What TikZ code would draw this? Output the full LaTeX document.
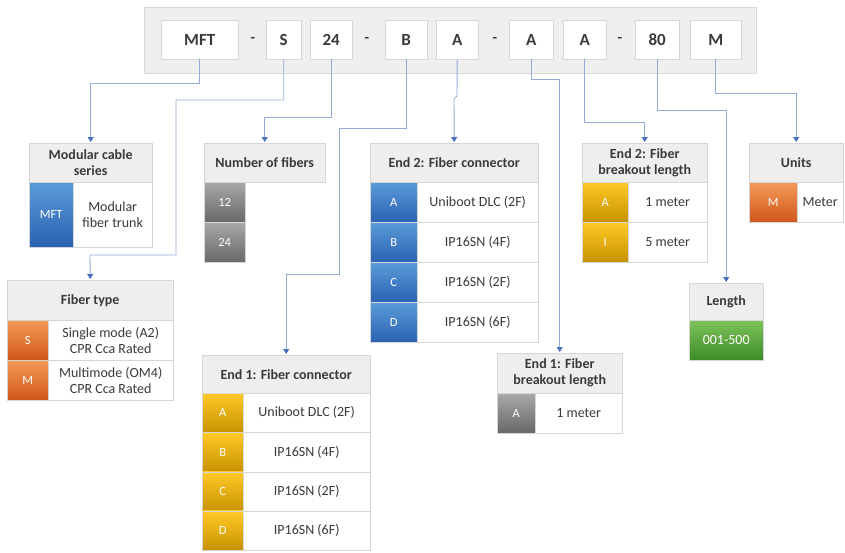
\documentclass[tikz,border=0pt]{standalone}
\usepackage{fontspec}
\setmainfont{Carlito}
\usetikzlibrary{arrows.meta}

\definecolor{barfill}{HTML}{EFEFEF}
\definecolor{barline}{HTML}{D9D9D9}
\definecolor{hdrfill}{HTML}{EEEEEE}
\definecolor{cellline}{HTML}{D6D6D6}
\definecolor{linkblue}{HTML}{93ABD8}
\definecolor{tipblue}{HTML}{4A6FBF}
\definecolor{txtgrey}{HTML}{3A3A3A}
\definecolor{bluetop}{HTML}{5B9BD8}
\definecolor{bluebot}{HTML}{2A62B2}
\definecolor{greytop}{HTML}{A8A8A8}
\definecolor{greybot}{HTML}{686868}
\definecolor{orangetop}{HTML}{F39A58}
\definecolor{orangebot}{HTML}{D0561A}
\definecolor{yellowtop}{HTML}{FFC928}
\definecolor{yellowbot}{HTML}{C89200}
\definecolor{greentop}{HTML}{7DC25A}
\definecolor{greenbot}{HTML}{3C8C28}

\tikzset{
  top/.style={draw=cellline, fill=white, minimum height=39pt, inner sep=0pt, anchor=north west,
    font=\fontsize{17}{19}\selectfont\bfseries, text=txtgrey},
  sep/.style={font=\fontsize{15}{17}\selectfont\bfseries, text=txtgrey},
  hdr/.style={draw=cellline, fill=hdrfill, inner sep=0pt, anchor=north west, align=center,
    font=\fontsize{14}{16}\selectfont\bfseries, text=txtgrey},
  cell/.style={draw=cellline, fill=white, inner sep=0pt, anchor=north west, align=center,
    font=\fontsize{14}{16}\selectfont, text=txtgrey},
  key/.style={draw=cellline, inner sep=0pt, anchor=north west, text=white,
    font=\fontsize{12.5}{14}\selectfont},
  bluekey/.style={key, top color=bluetop, bottom color=bluebot},
  greykey/.style={key, top color=greytop, bottom color=greybot},
  orangekey/.style={key, top color=orangetop, bottom color=orangebot},
  yellowkey/.style={key, top color=yellowtop, bottom color=yellowbot},
  greenkey/.style={key, top color=greentop, bottom color=greenbot},
  conn/.style={draw=linkblue, line width=0.9pt, -{Triangle[width=6pt,length=5pt,color=tipblue]}, shorten >=1pt}
}

\begin{document}
\begin{tikzpicture}[x=1pt,y=-1pt]
\useasboundingbox (0,0) rectangle (845,552);

% code bar
\node[draw=barline, fill=barfill, minimum width=612pt, minimum height=66pt, anchor=north west] (bar) at (144,7) {};
\node[top, minimum width=77pt] (mft) at (161,20) {MFT};
\node[sep] (d1) at (253,40) {-};
\node[top, minimum width=35pt] (s) at (266,20) {S};
\node[top, minimum width=42pt] (n24) at (310,20) {24};
\node[sep] (d2) at (367,40) {-};
\node[top, minimum width=42pt] (b) at (385,20) {B};
\node[top, minimum width=42pt] (a1) at (436,20) {A};
\node[sep] (d3) at (495,40) {-};
\node[top, minimum width=44pt] (a2) at (509,20) {A};
\node[top, minimum width=43pt] (a3) at (563,20) {A};
\node[sep] (d4) at (620,40) {-};
\node[top, minimum width=44pt] (n80) at (635,20) {80};
\node[top, minimum width=51pt] (m) at (690,20) {M};

% modular cable series
\node[hdr, minimum width=123pt, minimum height=39pt] (ser) at (29,143) {Modular cable\\series};
\node[bluekey, minimum width=44pt, minimum height=65pt] (serkey) at (29,182) {MFT};
\node[cell, minimum width=79pt, minimum height=65pt] (sertxt) at (73,182) {Modular\\fiber trunk};

% number of fibers
\node[hdr, minimum width=121pt, minimum height=39pt] (nfib) at (204,143) {Number of fibers};
\node[greykey, minimum width=41pt, minimum height=40pt] (nfib12) at (204,182) {12};
\node[greykey, minimum width=41pt, minimum height=40pt] (nfib24) at (204,222) {24};

% end 2 connector
\node[hdr, minimum width=168pt, minimum height=39pt] (ec2) at (370,143) {End 2: Fiber connector};
\foreach \k/\t [count=\i from 0] in {A/Uniboot DLC (2F), B/IP16SN (4F), C/IP16SN (2F), D/IP16SN (6F)}{
  \node[bluekey, minimum width=47pt, minimum height=40pt] (ec2key\i) at (370,{182+40*\i}) {\k};
  \node[cell, minimum width=121pt, minimum height=40pt] (ec2txt\i) at (417,{182+40*\i}) {\t};
}

% end 2 breakout length
\node[hdr, minimum width=125pt, minimum height=39pt] (eb2) at (582,143) {End 2: Fiber\\breakout length};
\node[yellowkey, minimum width=46pt, minimum height=40pt] (eb2keyA) at (582,182) {A};
\node[cell, minimum width=79pt, minimum height=40pt] (eb2txtA) at (628,182) {1 meter};
\node[yellowkey, minimum width=46pt, minimum height=40pt] (eb2keyI) at (582,222) {I};
\node[cell, minimum width=79pt, minimum height=40pt] (eb2txtI) at (628,222) {5 meter};

% units
\node[hdr, minimum width=94pt, minimum height=39pt] (unit) at (749,143) {Units};
\node[orangekey, minimum width=48pt, minimum height=40pt] (unitkey) at (749,182) {M};
\node[cell, minimum width=46pt, minimum height=40pt] (unittxt) at (797,182) {Meter};

% fiber type
\node[hdr, minimum width=166pt, minimum height=40pt] (ftype) at (7,280) {Fiber type};
\node[orangekey, minimum width=41pt, minimum height=40pt] (ftkeyS) at (7,320) {S};
\node[cell, minimum width=125pt, minimum height=40pt] (fttxtS) at (48,320) {Single mode (A2)\\CPR Cca Rated};
\node[orangekey, minimum width=41pt, minimum height=40pt] (ftkeyM) at (7,360) {M};
\node[cell, minimum width=125pt, minimum height=40pt] (fttxtM) at (48,360) {Multimode (OM4)\\CPR Cca Rated};

% length
\node[hdr, minimum width=74pt, minimum height=37pt] (len) at (689,283) {Length};
\node[greenkey, minimum width=74pt, minimum height=40pt, font=\fontsize{14}{16}\selectfont] (lenkey) at (689,320) {001-500};

% end 1 connector
\node[hdr, minimum width=168pt, minimum height=38pt] (ec1) at (202,355) {End 1: Fiber connector};
\foreach \k/\t [count=\i from 0] in {A/Uniboot DLC (2F), B/IP16SN (4F), C/IP16SN (2F), D/IP16SN (6F)}{
  \node[yellowkey, minimum width=41pt, minimum height=39.25pt] (ec1key\i) at (202,{393+39.25*\i}) {\k};
  \node[cell, minimum width=127pt, minimum height=39.25pt] (ec1txt\i) at (243,{393+39.25*\i}) {\t};
}

% end 1 breakout length
\node[hdr, minimum width=125pt, minimum height=40pt] (eb1) at (497,353) {End 1: Fiber\\breakout length};
\node[greykey, minimum width=38pt, minimum height=40pt] (eb1key) at (497,393) {A};
\node[cell, minimum width=87pt, minimum height=40pt] (eb1txt) at (535,393) {1 meter};

% connectors
\draw[conn] (mft.south) -- ++(0,24) -| (ser.north);
\draw[conn] (s.south) |- (176,100) |- (90,255) -- (ftype.north);
\draw[conn] (n24.south) -- ++(0,58) -| (nfib.north);
\draw[conn] (b.south) |- (339,128) -- (339,274) -| (ec1.north);
\draw[conn] (a1.south) -- (457,96) -- (454,99) -- (ec2.north);
\draw[conn] (a2.south) -- ++(0,20) -| (eb1.north);
\draw[conn] (a3.south) -- ++(0,63) -| (eb2.north);
\draw[conn] (n80.south) -- ++(0,51) -| (len.north);
\draw[conn] (m.south) -- ++(0,34) -| (unit.north);
\end{tikzpicture}
\end{document}
